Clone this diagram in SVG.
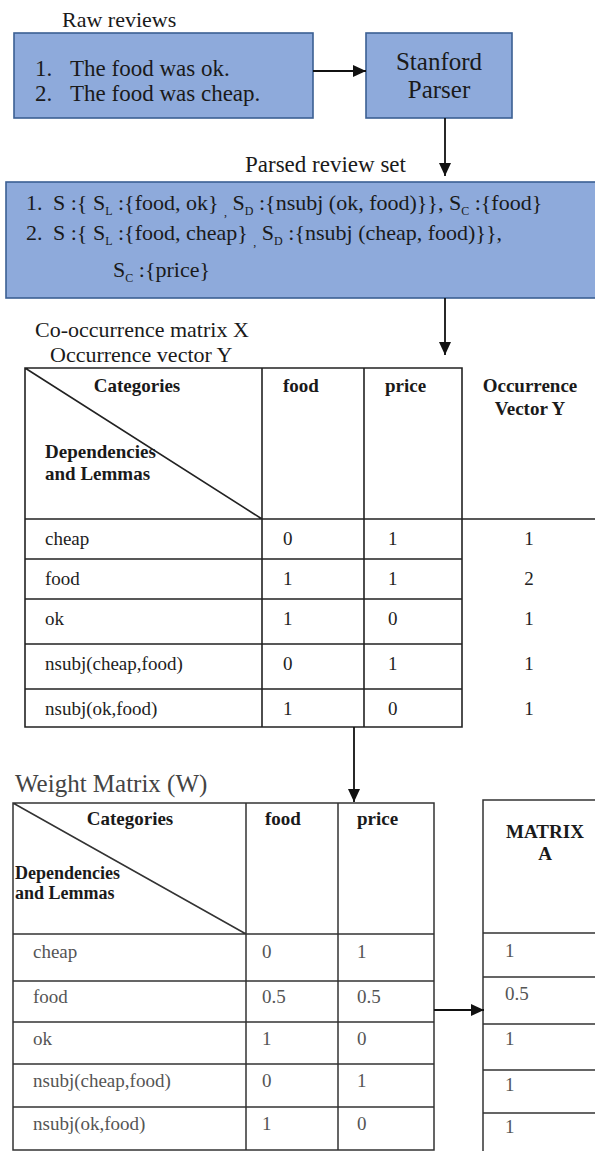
<svg xmlns="http://www.w3.org/2000/svg" width="595" height="1151" viewBox="0 0 595 1151" font-family="'Liberation Serif','Times New Roman',serif">
<style>
text{font-family:"Liberation Serif","Times New Roman",serif;fill:#1a1a1a}
.box{fill:#8eaadb;stroke:#3b5f93;stroke-width:1.6}
.t22{font-size:22px}
.t23{font-size:23px}
.hd{font-size:19px;font-weight:bold}
.hd2{font-size:18px;font-weight:bold}
.cell{font-size:19px;fill:#222}
.wcell{font-size:19px;fill:#555}
.grid{stroke:#222;stroke-width:1.6;fill:none}
.wgrid{stroke:#333;stroke-width:1.5;fill:none}
.sub{font-size:12px}
.conn{stroke:#111;stroke-width:1.8;fill:none;marker-end:url(#ah)}
</style>
<defs>
<marker id="ah" markerUnits="userSpaceOnUse" markerWidth="14" markerHeight="12" refX="13" refY="6" orient="auto">
<path d="M0,0 L13,6 L0,12 z" fill="#111"/>
</marker>
</defs>
<rect width="595" height="1151" fill="#ffffff"/>

<g id="raw-reviews">
<text x="62" y="27" class="t22">Raw reviews</text>
<rect class="box" x="14" y="33" width="299" height="85"/>
<text class="t23" x="35" y="76">1.</text>
<text class="t23" x="70" y="76">The food was ok.</text>
<text class="t23" x="35" y="101">2.</text>
<text class="t23" x="70" y="101">The food was cheap.</text>
</g>

<g id="stanford-parser">
<rect class="box" x="366" y="33" width="146" height="85"/>
<text x="439" y="70" style="font-size:25px" text-anchor="middle">Stanford</text>
<text x="439" y="98" style="font-size:25px" text-anchor="middle">Parser</text>
</g>

<g id="parsed-review-set">
<text class="t23" x="245" y="172">Parsed review set</text>
<rect class="box" x="6" y="182" width="595" height="116"/>
<text class="t22" x="26" y="210">1.</text>
<text class="t22" x="53" y="210">S :{ S<tspan class="sub" dy="5">L</tspan><tspan dy="-5"> :{food, ok} </tspan><tspan class="sub" dy="6">,</tspan><tspan dy="-6"> S</tspan><tspan class="sub" dy="5">D</tspan><tspan dy="-5"> :{nsubj (ok, food)}}, S</tspan><tspan class="sub" dy="5">C</tspan><tspan dy="-5"> :{food}</tspan></text>
<text class="t22" x="26" y="240">2.</text>
<text class="t22" x="53" y="240">S :{ S<tspan class="sub" dy="5">L</tspan><tspan dy="-5"> :{food, cheap} </tspan><tspan class="sub" dy="6">,</tspan><tspan dy="-6"> S</tspan><tspan class="sub" dy="5">D</tspan><tspan dy="-5"> :{nsubj (cheap, food)}},</tspan></text>
<text class="t22" x="113" y="277">S<tspan class="sub" dy="5">C</tspan><tspan dy="-5"> :{price}</tspan></text>
</g>

<g id="cooccurrence-table">
<text class="t22" x="35" y="337">Co-occurrence matrix X</text>
<text class="t22" x="50" y="362">Occurrence vector Y</text>
<path class="grid" d="M25,368 H462 V727 H25 Z M262,368 V727 M364,368 V727 M25,519 H595 M25,559 H462 M25,599 H462 M25,644 H462 M25,689 H462 M25,368 L262,519"/>
<text class="hd" x="137" y="392" text-anchor="middle">Categories</text>
<text class="hd" x="45" y="458">Dependencies</text>
<text class="hd" x="45" y="480">and Lemmas</text>
<text class="hd" x="283" y="392">food</text>
<text class="hd" x="385" y="392">price</text>
<text class="hd" x="530" y="392" text-anchor="middle">Occurrence</text>
<text class="hd" x="530" y="415" text-anchor="middle">Vector Y</text>
<text class="cell" x="45" y="545">cheap</text>
<text class="cell" x="283" y="545">0</text>
<text class="cell" x="388" y="545">1</text>
<text class="cell" x="529" y="545" text-anchor="middle">1</text>
<text class="cell" x="45" y="585">food</text>
<text class="cell" x="283" y="585">1</text>
<text class="cell" x="388" y="585">1</text>
<text class="cell" x="529" y="585" text-anchor="middle">2</text>
<text class="cell" x="45" y="625">ok</text>
<text class="cell" x="283" y="625">1</text>
<text class="cell" x="388" y="625">0</text>
<text class="cell" x="529" y="625" text-anchor="middle">1</text>
<text class="cell" x="45" y="670">nsubj(cheap,food)</text>
<text class="cell" x="283" y="670">0</text>
<text class="cell" x="388" y="670">1</text>
<text class="cell" x="529" y="670" text-anchor="middle">1</text>
<text class="cell" x="45" y="715">nsubj(ok,food)</text>
<text class="cell" x="283" y="715">1</text>
<text class="cell" x="388" y="715">0</text>
<text class="cell" x="529" y="715" text-anchor="middle">1</text>
</g>

<g id="weight-matrix">
<text x="15" y="792" style="font-size:25px;fill:#444">Weight Matrix (W)</text>
<path class="wgrid" d="M13,803 H434 V1150 H13 Z M246,803 V1150 M338,803 V1150 M13,934 H434 M13,981 H434 M13,1022 H434 M13,1064 H434 M13,1107 H434 M13,803 L246,934"/>
<text class="hd" x="130" y="825" text-anchor="middle">Categories</text>
<text class="hd2" x="15" y="879">Dependencies</text>
<text class="hd2" x="15" y="899">and Lemmas</text>
<text class="hd" x="265" y="825">food</text>
<text class="hd" x="357" y="825">price</text>
<text class="wcell" x="33" y="958">cheap</text>
<text class="wcell" x="262" y="958">0</text>
<text class="wcell" x="357" y="958">1</text>
<text class="wcell" x="33" y="1003">food</text>
<text class="wcell" x="262" y="1003">0.5</text>
<text class="wcell" x="357" y="1003">0.5</text>
<text class="wcell" x="33" y="1045">ok</text>
<text class="wcell" x="262" y="1045">1</text>
<text class="wcell" x="357" y="1045">0</text>
<text class="wcell" x="33" y="1087">nsubj(cheap,food)</text>
<text class="wcell" x="262" y="1087">0</text>
<text class="wcell" x="357" y="1087">1</text>
<text class="wcell" x="33" y="1130">nsubj(ok,food)</text>
<text class="wcell" x="262" y="1130">1</text>
<text class="wcell" x="357" y="1130">0</text>
</g>

<g id="matrix-a">
<path class="wgrid" d="M600,800 H483 V1151 M483,933 H600 M483,977 H600 M483,1024 H600 M483,1070 H600 M483,1113 H600"/>
<text class="hd" x="545" y="838" text-anchor="middle">MATRIX</text>
<text class="hd" x="545" y="860" text-anchor="middle">A</text>
<text class="wcell" x="505" y="957">1</text>
<text class="wcell" x="505" y="1000">0.5</text>
<text class="wcell" x="505" y="1045">1</text>
<text class="wcell" x="505" y="1091">1</text>
<text class="wcell" x="505" y="1133">1</text>
</g>

<g id="connectors">
<line class="conn" x1="313" y1="71" x2="366" y2="71"/>
<line class="conn" x1="445" y1="118" x2="445" y2="176"/>
<line class="conn" x1="445" y1="298" x2="445" y2="355"/>
<line class="conn" x1="354" y1="727" x2="354" y2="802"/>
<line class="conn" x1="434" y1="1010" x2="484" y2="1010"/>
</g>
</svg>
